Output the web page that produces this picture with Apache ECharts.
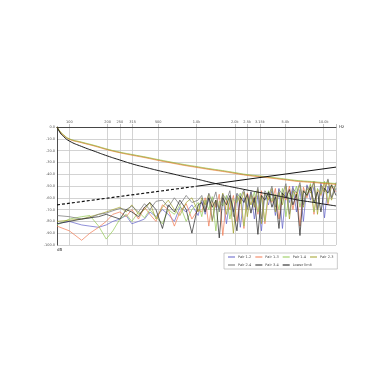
<!DOCTYPE html>
<html><head><meta charset="utf-8">
<script src="https://cdn.jsdelivr.net/npm/echarts@6/dist/echarts.min.js"></script>
<style>html,body{margin:0;padding:0;background:#fff}#c{width:392px;height:392px}</style>
</head><body><div id="c"></div>
<script>
const X_TICKS = [100, 200, 250, 315, 500, 1000, 2000, 2500, 3150, 5000, 10000, 12500];
const X_TICK_LABELS = ['100', '200', '250', '315', '500', '1.0k', '2.0k', '2.5k', '3.15k', '5.0k', '10.0k', ''];

const FREQ_NOISE = [80, 100, 125, 145, 170, 195, 220, 250, 280, 310, 350, 390, 430, 480, 540, 600, 670, 740, 830, 920, 1030,
  1100, 1170, 1250, 1330, 1420, 1510, 1610, 1720, 1830, 1950, 2080, 2210, 2360, 2510, 2680, 2850, 3040, 3240, 3450, 3680,
  3920, 4170, 4450, 4740, 5050, 5380, 5730, 6110, 6510, 6930, 7390, 7870, 8390, 8940, 9520, 10150, 10810, 11520, 12500];

const PAIR_12 = [-82, -80, -83, -84, -85, -83, -80, -78, -75, -82, -80, -78, -72, -76, -70, -74, -80, -68, -72, -66, -75,
  -62, -74, -60, -79, -64, -70, -58, -82, -61, -72, -57, -85, -60, -68, -55, -78, -58, -88, -56, -66, -54, -75, -52, -86,
  -55, -64, -50, -72, -53, -80, -49, -62, -51, -70, -47, -77, -50, -60, -52];
const PAIR_13 = [-84, -88, -96, -90, -85, -80, -74, -72, -76, -70, -78, -68, -74, -80, -66, -70, -84, -72, -65, -78, -70,
  -72, -60, -84, -63, -68, -57, -92, -62, -70, -58, -80, -60, -86, -56, -66, -59, -74, -54, -82, -58, -64, -52, -78, -57,
  -62, -50, -70, -55, -84, -51, -60, -49, -74, -53, -58, -47, -66, -50, -55];
const PAIR_14 = [-83, -78, -76, -75, -84, -95, -88, -78, -74, -80, -72, -77, -70, -76, -82, -70, -74, -66, -80, -70, -64,
  -76, -62, -70, -59, -88, -63, -67, -58, -78, -61, -64, -56, -84, -59, -66, -55, -72, -58, -80, -54, -63, -57, -70, -52,
  -76, -56, -60, -50, -68, -54, -58, -48, -72, -52, -57, -46, -64, -49, -53];
const PAIR_23 = [-80, -79, -78, -76, -74, -72, -70, -68, -72, -66, -74, -70, -64, -78, -68, -62, -70, -75, -64, -60, -72,
  -60, -66, -57, -80, -62, -69, -56, -74, -60, -90, -58, -65, -55, -76, -57, -68, -53, -82, -56, -62, -52, -72, -55, -66,
  -50, -78, -54, -59, -49, -68, -52, -56, -47, -74, -50, -55, -45, -62, -48];
const PAIR_24 = [-75, -76, -78, -77, -74, -73, -71, -69, -70, -67, -72, -65, -70, -63, -62, -68, -60, -66, -58, -64, -62,
  -58, -70, -56, -64, -55, -72, -57, -62, -54, -76, -56, -60, -53, -70, -55, -64, -51, -78, -54, -59, -50, -68, -53, -57,
  -48, -74, -52, -56, -47, -66, -50, -54, -46, -70, -49, -53, -44, -60, -47];
const PAIR_34 = [-82, -80, -78, -77, -76, -74, -76, -78, -70, -72, -76, -68, -64, -70, -86, -66, -72, -62, -70, -90, -66,
  -64, -72, -60, -68, -62, -94, -60, -66, -58, -70, -88, -59, -64, -57, -73, -60, -91, -58, -62, -55, -68, -59, -86, -56,
  -60, -53, -66, -57, -92, -54, -58, -51, -64, -55, -72, -52, -56, -49, -58];

const FREQ_SMOOTH = [80, 85, 90, 100, 125, 160, 200, 250, 315, 400, 500, 630, 800, 1000, 1250, 1600, 2000, 2500, 3150, 4000, 5000, 6300, 8000, 10000, 12500];
const REF_GREEN = [0, -4.0, -6.6, -10.0, -12.8, -15.8, -18.8, -21.3, -23.4, -25.5, -27.6, -29.7, -31.8, -33.5, -35.2, -36.9, -38.6, -40.3, -41.5, -42.8, -44.1, -45.4, -46.2, -47.1, -47.9];
const REF_RED = [0, -4.2, -6.8, -10.2, -13.1, -16.1, -19.1, -21.6, -23.7, -25.8, -28.0, -30.1, -32.2, -33.9, -35.6, -37.3, -39.0, -40.7, -41.9, -43.2, -44.5, -45.8, -46.6, -47.5, -48.3];
const REF_ORANGE = [0, -4.4, -7.1, -10.5, -13.4, -16.4, -19.4, -21.9, -24.1, -26.2, -28.4, -30.5, -32.6, -34.3, -36.0, -37.7, -39.4, -41.1, -42.3, -43.6, -44.9, -46.2, -47.0, -47.9, -48.7];
const LIMIT_DESC = [0, -5.1, -8.0, -11.9, -16.5, -20.8, -24.6, -28.0, -31.4, -34.3, -36.9, -39.4, -42.0, -44.1, -46.6, -49.2, -51.3, -53.4, -55.5, -57.6, -59.7, -61.9, -63.6, -65.3, -66.9];

const LOWER_FREQ_DASHED = [80, 1000];
const LOWER_DASHED = [-66, -50.2];
const LOWER_FREQ_SOLID = [1000, 12500];
const LOWER_SOLID = [-50.2, -34];

const zip = (xs, ys) => xs.map((x, i) => [x, ys[i]]);
const noiseLine = (name, data, color) => ({
  name, type: 'line', data: zip(FREQ_NOISE, data), symbol: 'none',
  lineStyle: { width: 0.7, color }, itemStyle: { color }, z: 3
});
const smoothLine = (name, data, color, w) => ({
  name, type: 'line', data: zip(FREQ_SMOOTH, data), symbol: 'none', smooth: true,
  lineStyle: { width: w, color }, itemStyle: { color }, z: 4
});

const chart = echarts.init(document.getElementById('c'), null, { renderer: 'canvas' });
chart.setOption({
  animation: false,
  backgroundColor: '#fff',
  grid: { left: 57, right: 56, top: 127, bottom: 147, containLabel: false },
  xAxis: {
    type: 'log', logBase: 10, min: 80, max: 12500, position: 'top',
    name: 'Hz', nameLocation: 'end', nameGap: 3,
    nameTextStyle: { fontSize: 4, color: '#333', fontFamily: 'DejaVu Sans' },
    axisLine: { show: true, lineStyle: { color: '#222', width: 0.8 } },
    axisTick: { show: true, length: 3, lineStyle: { color: '#999', width: 0.6 }, customValues: X_TICKS },
    axisLabel: {
      customValues: X_TICKS, fontSize: 3.5, color: '#555', margin: 3, fontFamily: 'DejaVu Sans',
      formatter: v => { const i = X_TICKS.findIndex(t => Math.abs(t - v) < 1); return i >= 0 ? X_TICK_LABELS[i] : ''; }
    },
    splitLine: { show: true, lineStyle: { color: '#c8c8c8', width: 0.8 } },
    minorTick: { show: false }, minorSplitLine: { show: false }
  },
  yAxis: {
    type: 'value', min: -100, max: 0, interval: 10,
    name: 'dB', nameLocation: 'start', nameGap: 3,
    nameTextStyle: { fontSize: 4, color: '#333', align: 'left', fontFamily: 'DejaVu Sans' },
    axisLine: { show: true, lineStyle: { color: '#222', width: 0.8 } },
    axisTick: { show: false },
    axisLabel: { fontSize: 3.5, color: '#555', margin: 2, fontFamily: 'DejaVu Sans', formatter: v => v.toFixed(1) },
    splitLine: { show: true, lineStyle: { color: '#c8c8c8', width: 0.8 } }
  },
  legend: {
    data: ['Pair 1-2', 'Pair 1-3', 'Pair 1-4', 'Pair 2-3', '\n', 'Pair 2-4', 'Pair 3-4', 'Lower limit'],
    left: 224, top: 253, width: 106,
    orient: 'horizontal', icon: 'rect', itemWidth: 7, itemHeight: 1, itemGap: 4,
    padding: [2, 4, 2, 4],
    borderColor: '#aaa', borderWidth: 0.6,
    textStyle: { fontSize: 3.5, color: '#444', fontFamily: 'DejaVu Sans', padding: [0, 0, 0, -2] }
  },
  series: [
    smoothLine('ref-orange', REF_ORANGE, '#e8a040', 0.6),
    smoothLine('ref-red', REF_RED, '#e8502a', 0.6),
    smoothLine('ref-green', REF_GREEN, '#8cc63f', 0.7),
    smoothLine('limit-desc', LIMIT_DESC, '#1a1a1a', 1),
    noiseLine('Pair 1-2', PAIR_12, '#6060c8'),
    noiseLine('Pair 1-3', PAIR_13, '#f07850'),
    noiseLine('Pair 1-4', PAIR_14, '#90c850'),
    noiseLine('Pair 2-3', PAIR_23, '#a0a028'),
    noiseLine('Pair 2-4', PAIR_24, '#707070'),
    noiseLine('Pair 3-4', PAIR_34, '#222222'),
    { name: 'Lower limit', type: 'line', data: zip(LOWER_FREQ_DASHED, LOWER_DASHED), symbol: 'none',
      lineStyle: { width: 1.2, color: '#111', type: [3, 2] }, itemStyle: { color: '#111' }, z: 5 },
    { name: 'lower-solid', type: 'line', data: zip(LOWER_FREQ_SOLID, LOWER_SOLID), symbol: 'none',
      lineStyle: { width: 1, color: '#111' }, itemStyle: { color: '#111' }, z: 5 }
  ]
});
</script>
</body></html>
